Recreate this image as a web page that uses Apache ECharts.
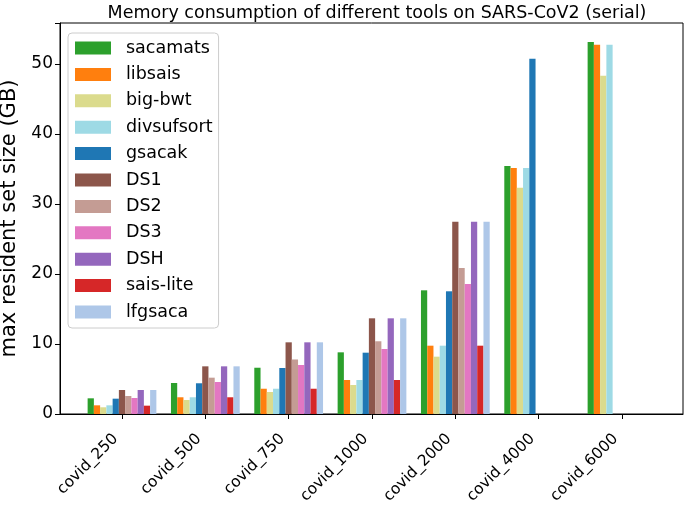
<!DOCTYPE html>
<html>
<head>
<meta charset="utf-8">
<script src="https://cdn.jsdelivr.net/npm/echarts@6/dist/echarts.min.js"></script>
<style>html,body{margin:0;padding:0;background:#fff}#c{width:685px;height:505px}</style>
</head>
<body>
<div id="c"></div>
<script>
var categories = ['covid_250','covid_500','covid_750','covid_1000','covid_2000','covid_4000','covid_6000'];
var seriesNames = ['sacamats','libsais','big-bwt','divsufsort','gsacak','DS1','DS2','DS3','DSH','sais-lite','lfgsaca'];
var colors = ['#2ca02c','#ff7f0e','#dbdb8d','#9edae5','#1f77b4','#8c564b','#c49c94','#e377c2','#9467bd','#d62728','#aec7e8'];
var sacamats   = [2.24, 4.43, 6.61, 8.81, 17.67, 35.43, 53.14];
var libsais    = [1.24, 2.39, 3.61, 4.86, 9.76, 35.14, 52.76];
var bigbwt     = [0.96, 2.00, 3.14, 4.14, 8.19, 32.33, 48.33];
var divsufsort = [1.24, 2.39, 3.61, 4.86, 9.76, 35.14, 52.76];
var gsacak     = [2.19, 4.39, 6.57, 8.76, 17.53, 50.76, null];
var DS1        = [3.43, 6.81, 10.24, 13.67, 27.47, null, null];
var DS2        = [2.57, 5.19, 7.79, 10.39, 20.86, null, null];
var DS3        = [2.29, 4.57, 7.00, 9.29, 18.57, null, null];
var DSH        = [3.43, 6.81, 10.24, 13.67, 27.47, null, null];
var saislite   = [1.19, 2.39, 3.61, 4.86, 9.76, null, null];
var lfgsaca    = [3.43, 6.81, 10.24, 13.67, 27.47, null, null];
var yTicks = [0, 10, 20, 30, 40, 50];

var allData = [sacamats, libsais, bigbwt, divsufsort, gsacak, DS1, DS2, DS3, DSH, saislite, lfgsaca];
var yMax = 55.86;
var FONT = 'DejaVu Sans';

var series = seriesNames.map(function (n, i) {
  return {
    name: n, type: 'bar', xAxisIndex: 0, yAxisIndex: 0,
    data: allData[i], barWidth: 6.25, barGap: '0%',
    itemStyle: {color: colors[i]}, animation: false
  };
});

var chart = echarts.init(document.getElementById('c'), null, {renderer: 'canvas'});
chart.setOption({
  animation: false,
  textStyle: {fontFamily: FONT},
  title: {
    text: 'Memory consumption of different tools on SARS-CoV2 (serial)',
    left: 372, top: -1, textAlign: 'center',
    textStyle: {fontFamily: FONT, fontSize: 17.5, fontWeight: 'normal', color: '#000'}
  },
  legend: {
    orient: 'vertical', left: 68, top: 33,
    data: seriesNames,
    itemWidth: 36, itemHeight: 13, itemGap: 8.4,
    icon: 'rect',
    padding: [6, 6, 7, 7],
    backgroundColor: 'rgba(255,255,255,0.8)',
    borderColor: '#cccccc', borderWidth: 1, borderRadius: 4,
    textStyle: {fontFamily: FONT, fontSize: 17.5, color: '#000', lineHeight: 17, padding: [0, 0, 0, 10]}
  },
  grid: [
    {left: 80.33, right: 21.33, top: 23, bottom: 91, containLabel: false, outerBoundsMode: 'none'},
    {left: 60, right: 2, top: 23, bottom: 91, containLabel: false, outerBoundsMode: 'none',
     show: true, borderColor: '#000', borderWidth: 1, backgroundColor: 'transparent'}
  ],
  xAxis: [
    {
      type: 'category', gridIndex: 0, data: categories,
      axisLine: {show: false},
      axisTick: {show: true, alignWithLabel: true, length: 5, lineStyle: {color: '#000'}},
      axisLabel: {rotate: 45, margin: 16, fontFamily: FONT, fontSize: 15.5, color: '#000', interval: 0, padding: [0, 9, 0, 0]},
      splitLine: {show: false}
    },
    {
      type: 'value', gridIndex: 1, min: 0, max: 1,
      axisLine: {show: true, lineStyle: {color: '#000'}},
      axisTick: {show: false}, axisLabel: {show: false}, splitLine: {show: false}
    }
  ],
  yAxis: [
    {type: 'value', gridIndex: 0, min: 0, max: yMax, show: false, splitLine: {show: false}},
    {
      type: 'value', gridIndex: 1, min: 0, max: yMax, interval: 10,
      name: 'max resident set size (GB)', nameLocation: 'middle', nameGap: 38,
      nameTextStyle: {fontFamily: FONT, fontSize: 21, color: '#000'},
      axisLine: {show: true, lineStyle: {color: '#000'}},
      axisTick: {show: true, length: 5, lineStyle: {color: '#000'}},
      axisLabel: {fontFamily: FONT, fontSize: 17, color: '#000', margin: 7,
        formatter: function (v) { return yTicks.indexOf(v) >= 0 ? String(v) : ''; }},
      splitLine: {show: false}
    }
  ],
  series: series
});
</script>
</body>
</html>
